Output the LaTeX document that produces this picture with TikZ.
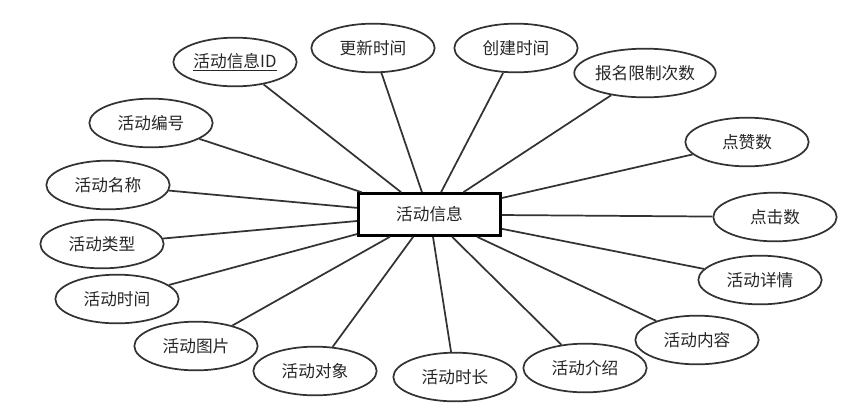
\documentclass[tikz,border=0pt]{standalone}
\usepackage{fontspec}
\setmainfont{Noto Sans CJK SC}
\usetikzlibrary{shapes.geometric}

\begin{document}
\begin{tikzpicture}[x=0.75pt,y=-0.75pt,
    attr/.style={ellipse,draw=black!80,line width=1.3pt,minimum width=92.5pt,
      minimum height=36.5pt,inner sep=0pt,text=black!85,font=\fontsize{12.5}{15}\selectfont},
    entity/.style={rectangle,draw=black,line width=2pt,minimum width=106.5pt,
      minimum height=31.5pt,inner sep=0pt,text=black!85,font=\fontsize{12.5}{15}\selectfont},
    link/.style={draw=black!80,line width=1.3pt}]
  \useasboundingbox (0,0) rectangle (865,419);

  % Entity
  \node[entity] (info) at (429.5,214.5) {活动信息};

  % Attributes, clockwise from top left
  \node[attr] (id)      at (235,62)  {\underline{活动信息ID}};
  \node[attr] (upd)     at (373,48)  {更新时间};
  \node[attr] (crt)     at (516,48)  {创建时间};
  \node[attr] (lim)     at (645,73)  {报名限制次数};
  \node[attr] (like)    at (747,142) {点赞数};
  \node[attr] (click)   at (775,217) {点击数};
  \node[attr] (detail)  at (760,280) {活动详情};
  \node[attr] (content) at (697,340) {活动内容};
  \node[attr] (intro)   at (585,368) {活动介绍};
  \node[attr] (dur)     at (455,377) {活动时长};
  \node[attr] (target)  at (315,371) {活动对象};
  \node[attr] (pic)     at (196,346) {活动图片};
  \node[attr] (time)    at (117,299) {活动时间};
  \node[attr] (type)    at (102,244) {活动类型};
  \node[attr] (name)    at (108,185) {活动名称};
  \node[attr] (num)     at (151,123) {活动编号};

  % Links
  \foreach \a in {id,upd,crt,lim,like,click,detail,content,intro,dur,target,pic,time,type,name,num}
    \draw[link] (info) -- (\a);
\end{tikzpicture}
\end{document}
